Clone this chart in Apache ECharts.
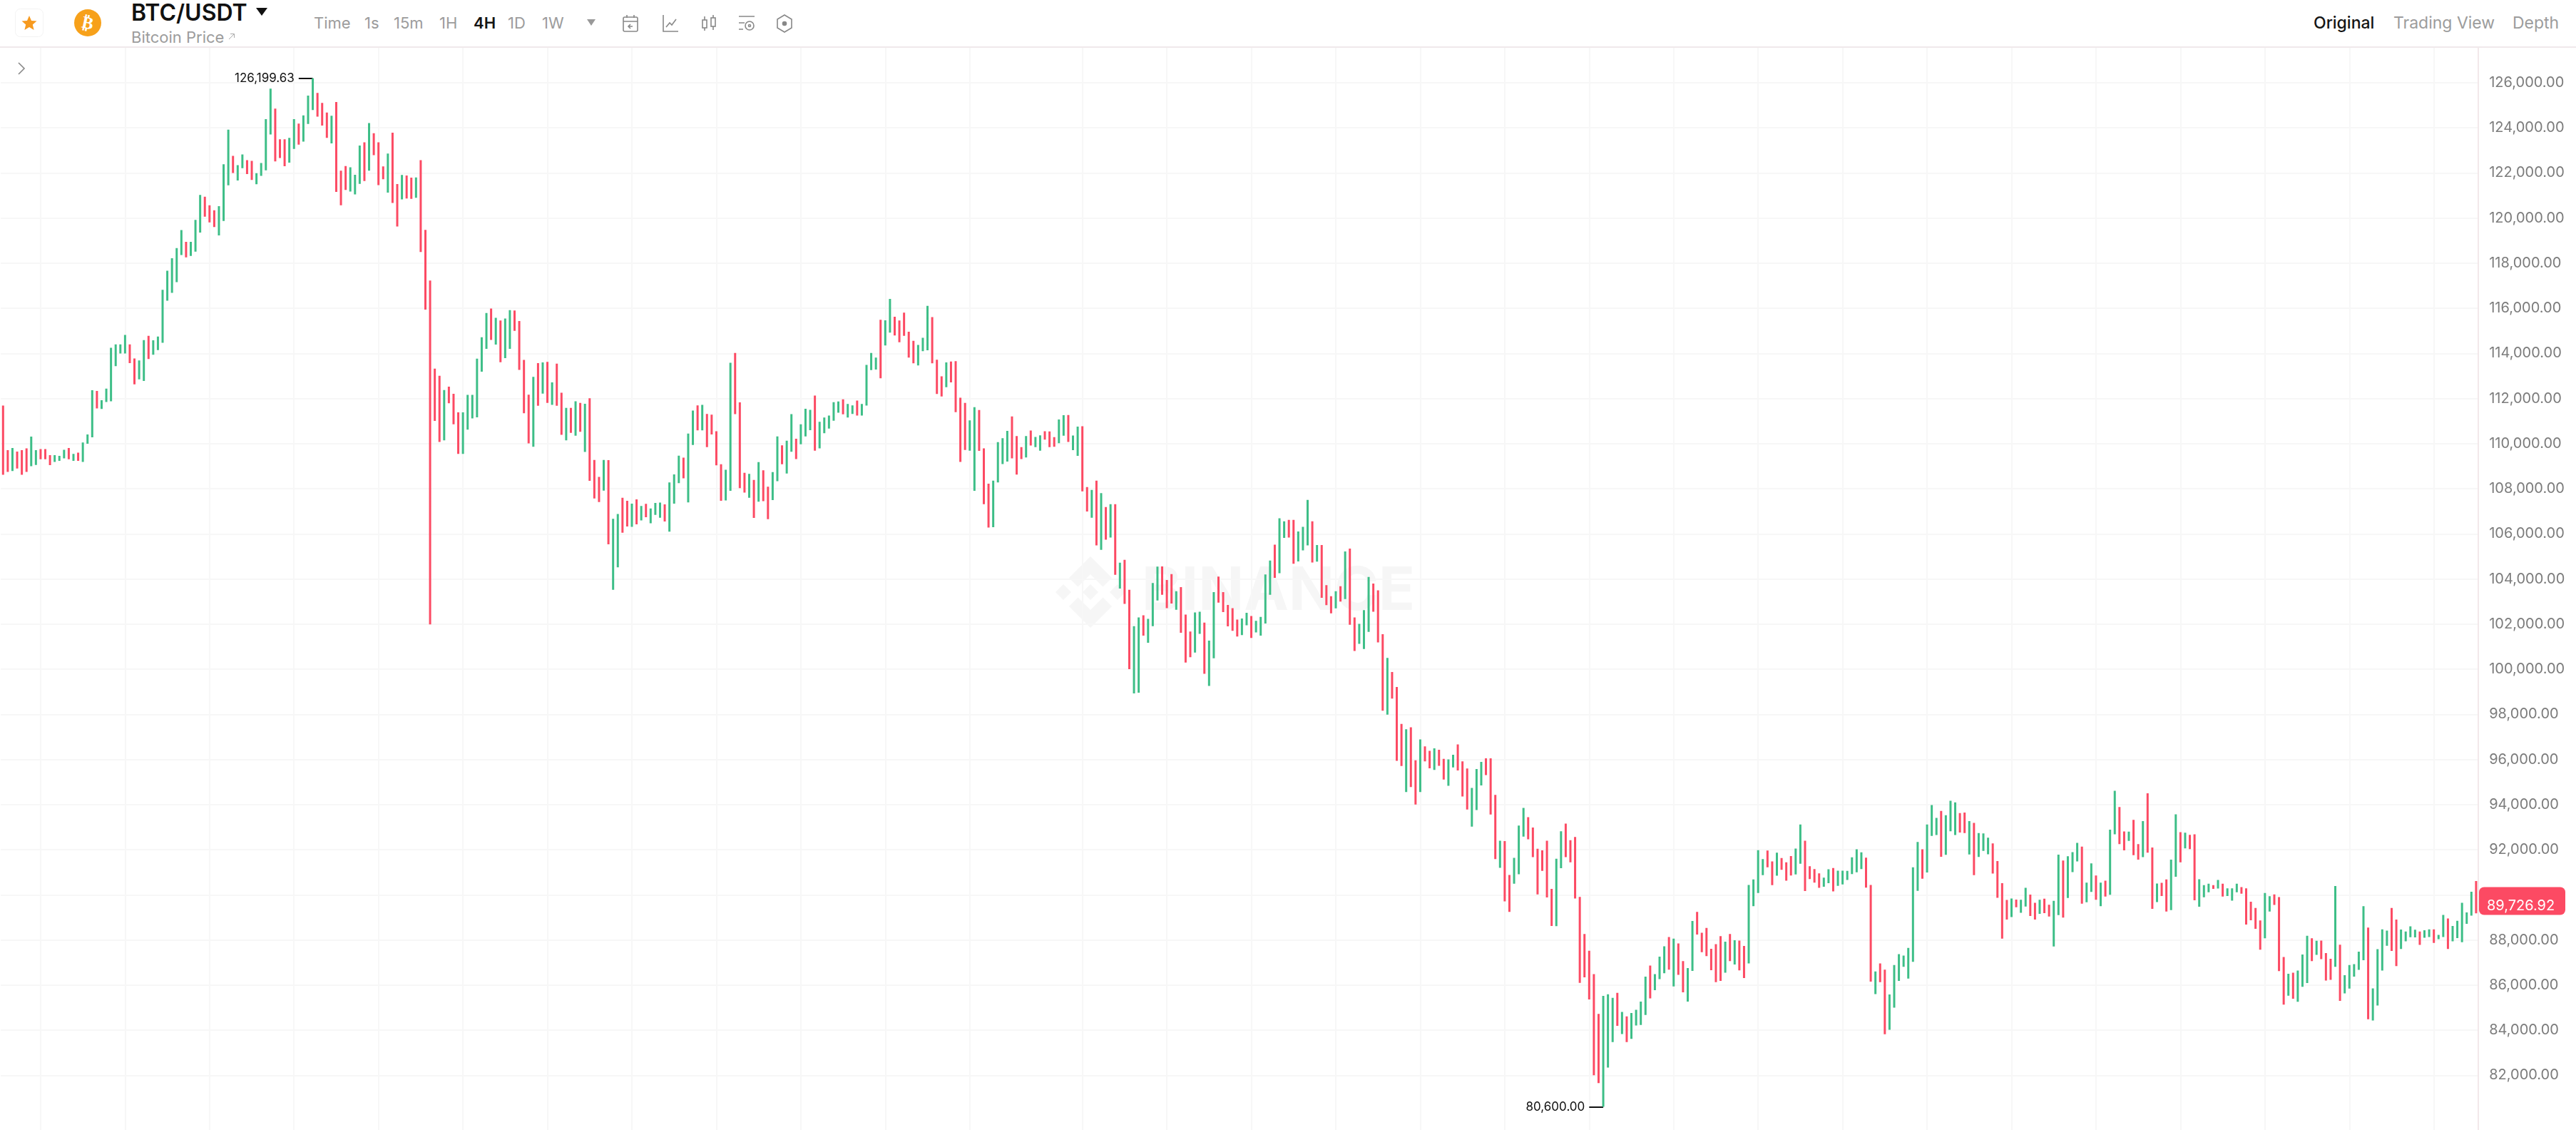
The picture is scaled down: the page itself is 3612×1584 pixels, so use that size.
<!DOCTYPE html>
<html>
<head>
<meta charset="utf-8">
<title>BTC/USDT</title>
<script src="https://cdn.jsdelivr.net/npm/echarts@6/dist/echarts.min.js"></script>
<style>
html, body { margin: 0; padding: 0; background: #fff; width: 3612px; height: 1584px; overflow: hidden; font-family: Inter, "Noto Sans", sans-serif; }
#chart { position: absolute; left: 0; top: 0; width: 3612px; height: 1640px; }
#head { position: absolute; left: 0; top: 0; width: 3612px; height: 65px; background: #fff; border-bottom: 2px solid #f0e9eb; }
#head span { position: absolute; white-space: nowrap; line-height: 1; }
#head svg { position: absolute; }
.tab { top: 21px; font-size: 22px; color: #9c9c9c; }
.right { top: 21px; font-size: 23px; color: #9c9c9c; }
.on { color: #141414; font-weight: 600; }
</style>
</head>
<body>
<div id="chart"></div>
<div id="head">
    <svg style="left:21px;top:12px" width="40" height="40"><rect x="0.5" y="0.5" width="39" height="39" rx="7" fill="#fff" stroke="#f3f3f3"/><path d="M20 10l3 7 7.5.6-5.7 4.9 1.8 7.4-6.6-4-6.6 4 1.8-7.4-5.7-4.9 7.5-.6z" fill="#f79a1f"/></svg>
    <svg style="left:103px;top:12px" width="40" height="40"><circle cx="20" cy="20" r="19" fill="#f7a11a"/><text x="20" y="28" font-size="24" font-weight="700" fill="#fff" text-anchor="middle" font-family="DejaVu Sans" transform="rotate(12 20 20)">₿</text></svg>
    <span style="left:184px;top:2px;font-size:32px;font-weight:600;color:#111">BTC/USDT</span>
    <svg style="left:359px;top:11px" width="16" height="11"><path d="M0 0h16l-8 11z" fill="#111"/></svg>
    <span style="left:184px;top:41px;font-size:22px;color:#9c9c9c">Bitcoin Price</span>
    <svg style="left:320px;top:46px" width="10" height="10"><path d="M1 9l7-7M3 1.5h5.5V7" stroke="#aaa" fill="none"/></svg>
    <span class="tab" style="left:440px">Time</span>
    <span class="tab" style="left:511px">1s</span>
    <span class="tab" style="left:552px">15m</span>
    <span class="tab" style="left:616px">1H</span>
    <span class="tab on" style="left:664px">4H</span>
    <span class="tab" style="left:712px">1D</span>
    <span class="tab" style="left:760px">1W</span>
    <svg style="left:823px;top:27px" width="12" height="9"><path d="M0 0h12l-6 9z" fill="#999"/></svg>
    <svg style="left:872px;top:20px" width="24" height="26" fill="none" stroke="#888" stroke-width="1.6"><rect x="2" y="4" width="20" height="20" rx="2"/><path d="M2 10h20M7 1v4M17 1v4M15 17H9m3-3l-3 3 3 3"/></svg>
    <svg style="left:928px;top:20px" width="24" height="26" fill="none" stroke="#888" stroke-width="1.6"><path d="M2 1v23h21M6 18l5-6 3 3 6-8"/></svg>
    <svg style="left:982px;top:20px" width="24" height="26" fill="none" stroke="#888" stroke-width="1.6"><rect x="3" y="8" width="6" height="11"/><rect x="15" y="5" width="6" height="12"/><path d="M6 3v5M6 19v4M18 1v4M18 17v5"/></svg>
    <svg style="left:1035px;top:20px" width="24" height="26" fill="none" stroke="#888" stroke-width="1.6"><path d="M1 3h22M1 12h8M1 21h6"/><circle cx="16" cy="16" r="6"/><circle cx="16" cy="16" r="1.5"/></svg>
    <svg style="left:1088px;top:20px" width="24" height="26" fill="none" stroke="#888" stroke-width="1.6"><path d="M12 1l10 6v12l-10 6-10-6V7z"/><circle cx="12" cy="13" r="2.5" fill="#888"/></svg>
    <span class="right on" style="left:3244px;font-weight:500">Original</span>
    <span class="right" style="left:3356px">Trading View</span>
    <span class="right" style="left:3523px">Depth</span>
</div>
<svg style="position:absolute;left:24px;top:87px" width="12" height="18" fill="none" stroke="#888" stroke-width="1.6"><path d="M2 1l8 8-8 8"/></svg>
<script>
// 4H candles, values
const highs = [
    111690,109710,109810,109650,109710,109790,110310,109710,109760,109760,
    109490,109490,109460,109730,109810,109550,109600,110050,110410,112370,
    112340,111930,112440,114250,114400,114400,114820,114400,113780,113690,
    114590,114780,114580,114750,116820,117670,118220,118670,119470,118950,
    118950,119920,121030,120950,120570,120350,120530,122390,123920,122760,
    122350,122820,122570,122540,121990,122440,124390,125740,124850,123490,
    123490,123560,124390,124190,124550,125430,126199.63,125550,125110,124680,
    124540,125150,122100,122310,122250,121920,123220,123360,124210,123760,
    123360,122290,122860,123790,121510,121910,121890,121790,121800,122570,
    119480,117230,113330,113010,112380,112530,112210,111390,111390,112160,
    112160,113770,114720,115790,115990,115580,115460,115550,115920,115900,
    115440,113710,112170,112960,113570,113600,113630,112720,113550,112260,
    111590,111590,111880,111810,111770,112010,109280,108530,109280,109270,
    106670,106880,107600,107470,107340,107530,107240,107330,107130,107370,
    107390,107310,108280,108640,109470,109380,110450,111470,111700,111720,
    111320,111290,110550,109090,108840,113590,114020,111830,108710,108660,
    108390,109180,108820,108090,108740,110320,109930,110130,111310,110220,
    110860,111550,111500,112130,110970,111160,111250,111840,111870,111970,
    111760,111700,111910,111760,113490,114020,113820,115490,115470,116420,
    115630,115460,115810,114960,114560,114380,114690,116110,115610,113720,
    112990,113600,113640,113660,112040,111810,111030,111620,111490,109790,
    108230,108360,110070,110240,110570,111210,110340,109850,110340,110580,
    110300,110370,110550,110540,110290,111070,111260,111270,110360,110760,
    110770,108080,107950,108360,107810,107190,107320,107320,104720,104850,
    103520,101910,102300,102390,102230,103820,104550,104560,103960,104220,
    103460,103640,102420,101670,102520,102550,102070,101270,103420,104110,
    103420,102850,102710,102200,102250,102500,102360,102150,102320,104200,
    104820,105520,106690,106560,106620,106620,106110,106310,107510,106560,
    105510,105510,103730,103240,103460,103680,105220,105350,102300,102010,
    102620,104090,103800,103500,101550,100500,99880,99210,97580,97340,
    97430,95960,96890,96580,96380,96490,96430,96030,96000,96210,
    96670,95920,95600,94740,95580,95890,96050,96050,94430,92400,
    92380,90880,91640,93070,93850,93440,92980,92040,91970,92400,
    90260,91600,92820,93160,92420,92560,89910,88260,87520,86480,
    84720,85520,85590,85430,85650,84810,84610,84760,84900,85270,
    86370,86860,86480,87260,87720,88130,88060,87840,87060,86750,
    88840,89240,88320,88530,87610,87810,88170,87920,88260,87990,
    87970,87730,90440,90680,91980,91580,91960,91480,91870,91630,
    91440,91720,92050,93120,92400,91270,91140,90950,90760,91130,
    91190,91070,91070,91060,91660,92020,91880,91650,90440,86600,
    86960,86680,85580,86890,87370,87310,87650,91220,92340,92020,
    93120,93980,93410,93720,93530,94170,94100,93620,93650,93270,
    93190,92740,92720,92530,92280,91500,90520,89770,89840,89790,
    89780,90310,90010,89650,89780,89830,89560,89730,91780,91520,
    91710,91890,92300,92140,90540,91390,90860,90540,90630,92890,
    94610,93890,92810,92800,93320,92250,93270,94500,92100,90500,
    90530,90680,91560,93570,92780,92750,92660,92680,90690,90430,
    90490,90430,90660,90490,90290,90290,90490,90340,90290,89690,
    89420,88860,90080,89940,90020,89900,87240,86500,86550,86640,
    87350,88180,88070,87960,87970,87420,87160,90390,87790,86440,
    86890,86930,87480,89500,88550,85850,87590,88470,88410,89420,
    88900,88460,88370,88600,88450,88370,88430,88470,88470,88220,
    89110,88950,88620,88850,89650,89220,90140,90610
]
const lows = [
    108620,108750,108790,108900,108620,108750,109000,109060,109310,109310,
    109050,109190,109240,109350,109310,109240,109240,109190,110000,110280,
    111560,111540,111850,111880,113440,114000,114000,113570,112630,112850,
    112780,113750,113940,114150,114470,116340,116690,117160,118360,118260,
    118320,118510,119360,120060,119810,119600,119230,119870,121450,122000,
    121670,122210,121950,121690,121500,121870,122120,123710,122510,122660,
    122300,122460,123070,123260,123390,124170,124790,124500,124100,123560,
    123310,121160,120570,121250,121180,121050,121520,121640,122100,122790,
    121460,121720,121130,120670,119630,120830,120870,120850,120900,118500,
    115940,101990,111010,110080,110150,111790,110860,109550,109550,110620,
    111120,111170,113190,114200,114600,114390,113610,113790,114200,115000,
    113270,111350,110010,109860,111680,112220,111810,111720,111680,110390,
    110150,110480,110350,110530,109630,108350,107570,107410,107920,105540,
    103520,104520,106050,106330,106310,106420,106600,106740,106470,106840,
    106720,106550,106100,107340,108250,108460,107400,109940,110590,110590,
    109850,110410,109040,107470,107480,107910,111310,108030,107830,107600,
    106710,107430,107450,106650,107500,108340,109090,108680,109640,109320,
    109970,110320,110600,109690,109790,110460,110670,111020,111370,111300,
    111160,111320,111250,111250,111690,113260,113290,112900,114350,114920,
    114800,114500,114780,113820,113560,113470,114100,114140,113560,112200,
    112090,112500,112720,111400,109190,109720,109690,107910,109680,107320,
    106280,106300,108280,109100,109210,109350,108630,109320,109390,109920,
    109850,109690,110180,109850,109860,110020,110350,110080,109710,109460,
    107890,106990,106720,105490,105290,105740,105840,104190,103580,102900,
    100000,98930,98960,101490,101170,101910,103050,103300,102710,102910,
    102640,101620,100300,100530,100740,101570,99800,99260,100490,102950,
    102530,101900,101700,101450,101510,101950,101390,101630,101490,102030,
    103300,104050,104260,105820,105840,104680,104780,105270,105490,104730,
    104770,103170,102840,102480,102700,103000,103110,101970,100810,101130,
    100900,101660,102550,101190,98160,97990,98700,95940,95710,94560,
    94780,94000,94560,95920,95610,95540,95720,95110,94830,95650,
    95510,94360,93780,93020,93760,94850,95310,93560,91580,91200,
    89710,89240,90490,90910,92580,92460,91670,90020,91060,89880,
    88620,88610,91180,91670,91440,89840,86100,86340,85360,82000,
    81650,80600,82340,83470,84190,83830,83470,83610,84210,84230,
    84670,85410,85770,86260,86520,86680,85940,86450,85680,85270,
    86630,88240,87460,87280,86660,86130,86180,86550,87060,86910,
    86650,86310,86960,89500,90080,90870,91220,90430,90850,91110,
    90630,90860,90900,91380,90170,90700,90540,90310,90360,90520,
    90150,90400,90460,90660,90920,91000,91140,90320,86150,85600,
    86130,83820,84020,85000,86180,86810,86290,87030,90180,90710,
    90990,92610,92650,91690,91770,92820,92650,92760,92740,91790,
    90870,91680,91950,91800,90940,89870,88060,88900,89010,89450,
    89200,89480,89060,88900,89160,89190,89040,87710,89100,88990,
    89860,91010,91480,89610,89670,90130,89780,89500,89920,90000,
    92680,92250,91970,92390,91760,91560,91670,91870,89380,89680,
    89950,89260,89320,90800,91440,92060,92030,89760,89470,89890,
    90110,90260,90280,89920,89950,89740,90110,90050,88680,88870,
    88490,87570,88070,89260,89550,86620,85130,85530,85390,85260,
    85920,86090,87060,87340,87150,86200,86230,86810,85300,85630,
    85840,86370,86670,87100,84480,84430,85090,86640,87740,87510,
    86840,87600,87940,88120,88110,87780,88100,88130,87870,88030,
    88130,87600,87940,88080,87900,88710,89080,89180
]
// g = up, r = down
const sides = [
    'rrgrrrggrr','rgggrgrggg','rggggggrrg','grgggggggr','gggrrrgggr',
    'ggrrggggrr','rggrgggrrr','grrrgggrgr','rrgrrgrrgr','rrrrgrrrgg',
    'ggggrgrggr','rrrgrgrgrr','grgrgrrrgr','ggrrgrgrgg','grgggrggrg',
    'rrrrggrrrg','rgrrggrggr','gggrgggggr','ggrggggrgg','rrrrrgggrr',
    'rgrrrrggrr','rggggrrrgr','ggrrrggrgg','rrgrgrgrgr','rggrgggrrr',
    'grrrggrggr','rrrrggrggg','grggrrgggr','grrrgrgrrg','ggrrrgrrrg',
    'rrgrrgrrgg','rrrgggrrrg','rrgggrrrrr','rggrrrrrrr','rgggrgrggg',
    'grgggrgrrg','grrrrrrgrg','rrggggrrgr','rrggrrrrgg','rggggggrrg',
    'rrgggggggr','gggrgggrrg','rgggrrrrgr','ggrrgrrggr','gggrggrgrg',
    'grrgrrgrrg','rrggrgrrgg','grgrgggrrr','rrggrrrgrg','ggrgrrrgrg',
    'ggggrggggr','rggggrggrg','grgggggr'
].join('')
const priceTicks = []
for (let p = 82000; p <= 128000; p += 2000) priceTicks.push(p)
const lastPrice = 89726.92
// vertical grid: every 18 bars, with the month step after bar 206
const dayLines = []
for (let i = 8; i <= 206; i += 18) dayLines.push(i)
for (let i = 230; i < 528; i += 18) dayLines.push(i)

const candles = highs.map(function (h, i) {
    return sides[i] === 'g' ? [lows[i], h, lows[i], h] : [h, lows[i], lows[i], h]
})
const maxIndex = highs.indexOf(Math.max.apply(null, highs))
const minIndex = lows.indexOf(Math.min.apply(null, lows))

function fmt (v) {
    return v.toLocaleString('en-US', { minimumFractionDigits: 2, maximumFractionDigits: 2 })
}

let chart = echarts.init(document.getElementById('chart'), null, { renderer: 'canvas' })
let option = {
    animation: false,
    backgroundColor: '#fff',
    grid: { left: 1, top: 52.76, width: 3474.2, height: 1581 },
    xAxis: {
        type: 'category',
        data: highs.map(function (h, i) { return i }),
        axisLine: { show: false },
        axisTick: { show: false },
        axisLabel: { show: false },
        splitLine: {
            show: true,
            alignWithLabel: true,
            interval: function (i) { return dayLines.indexOf(i) >= 0 },
            lineStyle: { color: '#f7f7f7', width: 2 }
        }
    },
    yAxis: {
        type: 'value',
        position: 'right',
        min: 78000,
        max: 128000,
        interval: 2000,
        axisLine: { show: true, onZero: false, lineStyle: { color: '#f2e8ea', width: 2 } },
        axisTick: { show: false, customValues: priceTicks },
        axisLabel: {
            margin: 15,
            fontFamily: 'Inter',
            fontSize: 20,
            color: '#7c7c7c',
            customValues: priceTicks,
            formatter: function (v) { return fmt(v) }
        },
        splitLine: { show: true, lineStyle: { color: '#f7f7f7', width: 2 } }
    },
    graphic: [
        // watermark
        { type: 'group', left: 1480, top: 780, silent: true, z: 1, children: [
            { type: 'polygon', x: 50, y: 50, shape: { points: [[0, -50], [30, -20], [17.5, -7.5], [0, -25], [-17.5, -7.5], [-30, -20]] }, style: { fill: '#f6f6f6' } },
            { type: 'polygon', x: 50, y: 50, shape: { points: [[0, 50], [30, 20], [17.5, 7.5], [0, 25], [-17.5, 7.5], [-30, 20]] }, style: { fill: '#f6f6f6' } },
            { type: 'polygon', x: 50, y: 50, shape: { points: [[0, -11], [11, 0], [0, 11], [-11, 0]] }, style: { fill: '#f6f6f6' } },
            { type: 'polygon', x: 12, y: 50, shape: { points: [[0, -11], [11, 0], [0, 11], [-11, 0]] }, style: { fill: '#f6f6f6' } },
            { type: 'polygon', x: 88, y: 50, shape: { points: [[0, -11], [11, 0], [0, 11], [-11, 0]] }, style: { fill: '#f6f6f6' } },
            { type: 'text', x: 122, y: 50, style: { text: 'BINANCE', fontFamily: 'Inter', fontWeight: 700, fontSize: 84, fill: '#f6f6f6', verticalAlign: 'middle' } }
        ] }
    ],
    series: [
        {
            type: 'candlestick',
            large: true,
            largeThreshold: 100,
            z: 5,
            itemStyle: { color: '#3dbe87', color0: '#fc4a63', borderColor: '#3dbe87', borderColor0: '#fc4a63', borderWidth: 3 },
            data: candles,
            markLine: {
                silent: true,
                symbol: 'none',
                animation: false,
                lineStyle: { color: '#111', width: 2, type: 'solid' },
                label: { show: true, position: 'start', distance: 6, fontFamily: 'Inter', fontSize: 17, color: '#111', formatter: '{b}' },
                data: [
                    [{ name: fmt(highs[maxIndex]), coord: [maxIndex - 3, highs[maxIndex]] }, { coord: [maxIndex, highs[maxIndex]] }],
                    [{ name: fmt(lows[minIndex]), coord: [minIndex - 3, lows[minIndex]] }, { coord: [minIndex, lows[minIndex]] }]
                ]
            }
        }
    ]
}
chart.setOption(option)

// last price tag on the axis
let lastY = chart.convertToPixel({ yAxisIndex: 0 }, lastPrice)
chart.setOption({
    graphic: option.graphic.concat([
        { type: 'rect', left: 3476, top: lastY - 19.5, shape: { width: 121, height: 39, r: 7 }, style: { fill: '#fc4a63' }, z: 10 },
        { type: 'text', left: 3487, top: lastY - 3, style: { text: fmt(lastPrice), fontFamily: 'Inter', fontSize: 20, fill: '#fff' }, z: 11 }
    ])
})
</script>
</body>
</html>
